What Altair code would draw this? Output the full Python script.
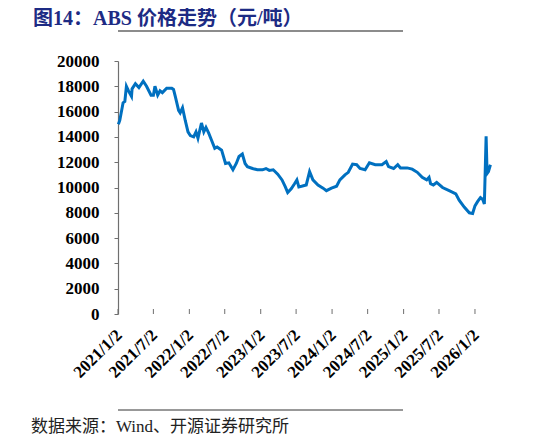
import altair as alt
import pandas as pd

# ABS price, yuan/ton
dates = [
    "2021-01-04", "2021-01-11", "2021-01-28", "2021-02-06", "2021-02-14", "2021-02-26",
    "2021-03-12", "2021-03-15", "2021-04-01", "2021-04-19", "2021-05-11", "2021-05-28",
    "2021-06-20", "2021-07-02", "2021-07-10", "2021-07-24", "2021-08-05", "2021-08-17",
    "2021-09-08", "2021-10-04", "2021-10-13", "2021-10-22", "2021-11-08", "2021-11-16",
    "2021-11-28", "2021-12-12", "2021-12-26", "2022-01-07", "2022-01-24", "2022-02-05",
    "2022-02-15", "2022-03-05", "2022-03-17", "2022-03-28", "2022-04-11", "2022-04-25",
    "2022-05-12", "2022-05-24", "2022-06-02", "2022-06-16", "2022-07-06", "2022-07-23",
    "2022-08-13", "2022-08-30", "2022-09-13", "2022-09-30", "2022-10-14", "2022-10-26",
    "2022-11-21", "2022-12-16", "2023-01-11", "2023-01-29", "2023-02-15", "2023-03-07",
    "2023-03-30", "2023-04-21", "2023-05-08", "2023-05-20", "2023-06-07", "2023-06-24",
    "2023-07-06", "2023-07-16", "2023-07-30", "2023-08-23", "2023-09-09", "2023-09-26",
    "2023-10-22", "2023-11-17", "2023-12-04", "2023-12-30", "2024-01-25", "2024-02-11",
    "2024-03-08", "2024-03-25", "2024-04-16", "2024-05-07", "2024-05-24", "2024-06-19",
    "2024-07-11", "2024-08-10", "2024-09-13", "2024-10-05", "2024-10-17", "2024-11-12",
    "2024-12-03", "2024-12-17", "2025-01-20", "2025-02-15", "2025-03-13", "2025-04-07",
    "2025-04-30", "2025-05-12", "2025-05-20", "2025-06-03", "2025-06-20", "2025-07-20",
    "2025-08-23", "2025-09-26", "2025-10-13", "2025-11-08", "2025-12-04", "2025-12-21",
    "2026-01-02", "2026-01-16", "2026-01-30", "2026-02-11", "2026-02-19", "2026-02-28",
    "2026-03-05", "2026-03-12", "2026-03-22",
]
prices = [
    15000, 15300, 16700, 16800, 18000, 17600,
    17200, 17800, 18200, 17900, 18400, 18000,
    17300, 17300, 18000, 17300, 17650, 17500,
    17850, 17850, 17750, 17200, 16100, 15900,
    16300, 15300, 14400, 14100, 14000, 14400,
    13900, 15100, 14400, 14750, 14300, 13750,
    13100, 13200, 13100, 12950, 11900, 11950,
    11400, 11900, 12450, 12650, 11900, 11650,
    11500, 11400, 11400, 11500, 11350, 11400,
    11050, 10600, 10050, 9600, 9900, 10300,
    10600, 10050, 10100, 10200, 11250, 10600,
    10200, 9950, 9750, 9950, 10100, 10600,
    11000, 11200, 11850, 11800, 11500, 11400,
    11950, 11800, 11800, 12050, 11650, 11500,
    11800, 11550, 11550, 11450, 11200, 10800,
    10600, 10800, 10300, 10200, 10400, 10000,
    9750, 9500, 9000, 8450, 8000, 7950,
    8550, 8900, 9200, 9050, 8700, 14050,
    11100, 11250, 11800,
]

tick_dates = ["2021-01-02", "2021-07-02", "2022-01-02", "2022-07-02", "2023-01-02",
              "2023-07-02", "2024-01-02", "2024-07-02", "2025-01-02", "2025-07-02",
              "2026-01-02"]
tick_labels = ["2021/1/2", "2021/7/2", "2022/1/2", "2022/7/2", "2023/1/2",
               "2023/7/2", "2024/1/2", "2024/7/2", "2025/1/2", "2025/7/2",
               "2026/1/2"]
y_ticks = [0, 2000, 4000, 6000, 8000, 10000, 12000, 14000, 16000, 18000, 20000]

title_text = "图14：ABS 价格走势（元/吨）"
source_text = "数据来源：Wind、开源证券研究所"

W, H = 373, 253
serif = "Liberation Serif, Times New Roman, Noto Sans CJK SC"
axis_grey = "#6f6f6f"

df = pd.DataFrame({"date": pd.to_datetime(dates), "price": prices})
ticks_df = pd.DataFrame({"date": pd.to_datetime(tick_dates), "label": tick_labels})
title_df = pd.DataFrame({"t": [title_text]})
source_df = pd.DataFrame({"t": [source_text]})

x_scale = alt.Scale(domain=[alt.DateTime(year=2021, month=1, date=2),
                            alt.DateTime(year=2026, month=3, date=25)], nice=False)

line = alt.Chart(df).mark_line(color="#0070C0", strokeWidth=3).encode(
    x=alt.X("date:T", scale=x_scale,
            axis=alt.Axis(title=None, labels=False, ticks=False, grid=False,
                          domainColor=axis_grey, domainWidth=1.2)),
    y=alt.Y("price:Q", scale=alt.Scale(domain=[0, 20000], nice=False),
            axis=alt.Axis(values=y_ticks, title=None, grid=False, tickSize=4,
                          tickColor=axis_grey, domainColor=axis_grey, domainWidth=1.2,
                          labelPadding=15, labelFont=serif, labelFontSize=17,
                          labelFontWeight="bold", labelColor="#000000", format="d")),
)

# x ticks point inward in the original
x_ticks = alt.Chart(ticks_df).mark_rule(color=axis_grey, strokeWidth=1).encode(
    x=alt.X("date:T", scale=x_scale, axis=None),
    y=alt.value(H - 5),
    y2=alt.value(H),
)

x_labels = alt.Chart(ticks_df).mark_text(
    angle=315, align="right", baseline="middle", font=serif, fontSize=17,
    fontWeight="bold", color="#000000", dx=2,
).encode(
    x=alt.X("date:T", scale=x_scale, axis=None),
    y=alt.value(H + 20),
    text="label:N",
)

title = alt.Chart(title_df).mark_text(
    align="left", baseline="middle", font=serif, fontSize=20, fontWeight="bold",
    color="#1d2b84",
).encode(text="t:N", x=alt.value(-85), y=alt.value(-42))

# separator lines span the page, stretched past the plot with offsets
title_rule = alt.Chart(title_df).mark_rule(
    color="#8c8c8c", strokeWidth=2, xOffset=-88, x2Offset=55
).encode(y=alt.value(-30))

source_rule = alt.Chart(source_df).mark_rule(
    color="#333333", strokeWidth=1, xOffset=-88, x2Offset=55
).encode(y=alt.value(349))

source = alt.Chart(source_df).mark_text(
    align="left", baseline="middle", font=serif, fontSize=17, color="#222222",
).encode(text="t:N", x=alt.value(-87), y=alt.value(366))

chart = alt.layer(line, x_ticks, x_labels, title, title_rule, source_rule, source).properties(
    width=W, height=H,
    background="white",
    autosize=alt.AutoSizeParams(type="none"),
    padding={"left": 110, "top": 53, "right": 47, "bottom": 122},
).configure_view(strokeWidth=0)

chart.save("out.html", embed_options={"renderer": "svg", "actions": False})
